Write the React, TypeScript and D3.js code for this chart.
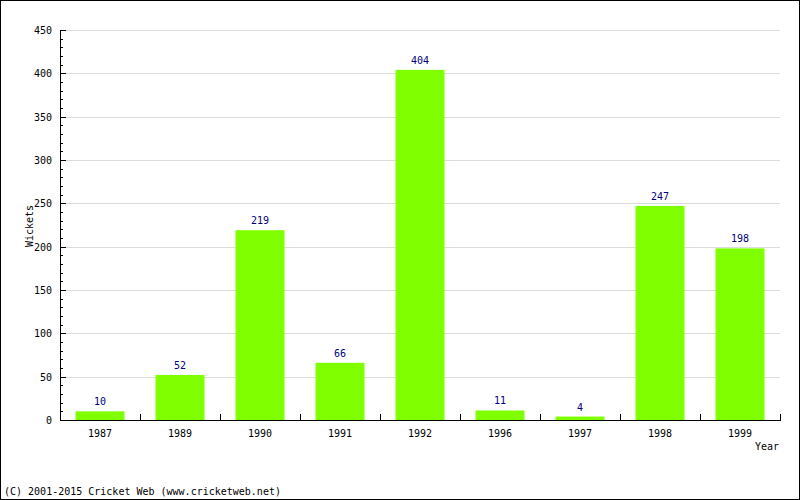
import React from "react";
import * as d3 from "d3";

const years = ["1987", "1989", "1990", "1991", "1992", "1996", "1997", "1998", "1999"];
const wickets = [10, 52, 219, 66, 404, 11, 4, 247, 198];
const yTicks = [0, 50, 100, 150, 200, 250, 300, 350, 400, 450];

const W = 800, H = 500;
const left = 60, right = 780, top = 30, bottom = 420;
const mono = "'DejaVu Sans Mono', monospace";

export default function App() {
  const x = d3.scaleBand<string>().domain(years).range([left, right]).paddingInner(0.3875).paddingOuter(0.19375);
  const xc = d3.scaleBand<string>().domain(years).range([left, right]);
  const y = d3.scaleLinear().domain([0, 450]).range([bottom, top]);
  const minor = d3.range(0, 451, 10);
  return (
    <svg width={W} height={H} style={{ position: "absolute", left: 0, top: 0 }}>
      <rect x={0} y={0} width={W} height={H} fill="#fff" />
      <rect x={0.5} y={0.5} width={W - 1} height={H - 1} fill="none" stroke="#000" />
      {yTicks.map((t) => (
        <line key={"g" + t} x1={left} x2={right} y1={Math.round(y(t)) + 0.5} y2={Math.round(y(t)) + 0.5} stroke="#dcdcdc" />
      ))}
      {years.map((yr, i) => (
        <g key={yr}>
          <rect x={x(yr)} y={y(wickets[i])} width={x.bandwidth()} height={bottom - y(wickets[i])} fill="#80ff00" />
          <text x={(x(yr) as number) + x.bandwidth() / 2} y={y(wickets[i]) - 6} textAnchor="middle" fontFamily={mono} fontSize={10} fill="#000080">{wickets[i]}</text>
          <text x={(xc(yr) as number) + xc.bandwidth() / 2} y={437} textAnchor="middle" fontFamily={mono} fontSize={10} fill="#000">{yr}</text>
          <line x1={(xc(yr) as number) + xc.bandwidth() + 0.5} x2={(xc(yr) as number) + xc.bandwidth() + 0.5} y1={bottom} y2={bottom - 6} stroke="#000" />
        </g>
      ))}
      {minor.map((t) => (
        <line key={"m" + t} x1={left} x2={t % 50 === 0 ? left + 6 : left + 3} y1={Math.round(y(t)) + 0.5} y2={Math.round(y(t)) + 0.5} stroke="#000" />
      ))}
      {yTicks.map((t) => (
        <text key={"t" + t} x={52} y={y(t) + 4} textAnchor="end" fontFamily={mono} fontSize={10} fill="#000">{t}</text>
      ))}
      <line x1={left + 0.5} x2={left + 0.5} y1={top} y2={bottom + 1} stroke="#000" />
      <line x1={left} x2={right + 1} y1={bottom + 0.5} y2={bottom + 0.5} stroke="#000" />
      <text x={779} y={450} textAnchor="end" fontFamily={mono} fontSize={10} fill="#000">Year</text>
      <text transform={`translate(33,226) rotate(-90)`} textAnchor="middle" fontFamily={mono} fontSize={10} fill="#000">Wickets</text>
      <text x={4} y={495} fontFamily={mono} fontSize={10} fill="#000">(C) 2001-2015 Cricket Web (www.cricketweb.net)</text>
    </svg>
  );
}
